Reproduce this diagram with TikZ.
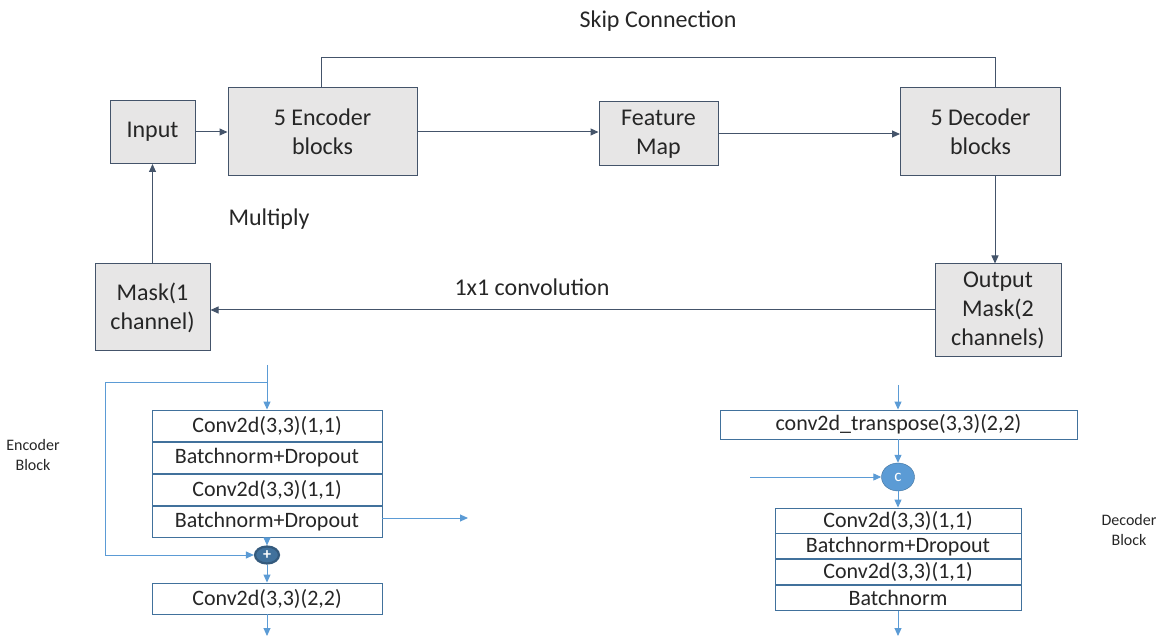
\documentclass[tikz,border=0pt]{standalone}
\usepackage{fontspec}
\setmainfont{Carlito}
\usepackage{xcolor,tikz}
\usetikzlibrary{arrows.meta,positioning,shapes.geometric,calc}
\definecolor{slate}{HTML}{44546A}
\definecolor{boxgray}{HTML}{E7E6E6}
\definecolor{lineblue}{HTML}{5B9BD5}
\definecolor{rowblue}{HTML}{41719C}
\definecolor{txt}{HTML}{262626}

\begin{document}
\begin{tikzpicture}[x=1pt,y=-1pt,
  every node/.style={text=txt},
  big/.style={font=\fontsize{24}{29}\selectfont},
  blk/.style={draw=slate,fill=boxgray,line width=1pt,align=center,big,inner sep=0pt},
  row/.style={draw=rowblue,line width=0.9pt,align=center,inner sep=0pt,font=\fontsize{22}{26}\selectfont},
  dot/.style={ellipse,draw=rowblue,fill=lineblue,inner sep=0pt,text=white},
  lbl/.style={align=center,font=\fontsize{16}{20}\selectfont},
  arr/.style={-{Triangle[length=8pt,width=7pt]},slate,line width=1pt},
  barr/.style={-{Triangle[length=8pt,width=7pt]},lineblue,line width=1pt}]
\useasboundingbox (0,0) rectangle (1163,636);
% overall network
\node[blk,minimum width=85,minimum height=63] (inp) at (152.5,132) {Input\strut};
\node[blk,minimum width=189,minimum height=88] (enc) at (322.5,132) {5 Encoder\\ blocks};
\node[blk,minimum width=119,minimum height=64] (feat) at (658.5,134) {Feature\\ Map};
\node[blk,minimum width=160,minimum height=88] (dec) at (980.5,132) {5 Decoder\\ blocks};
\node[blk,minimum width=115,minimum height=87] (mask) at (152.5,307.5) {Mask(1\\ channel)};
\node[blk,minimum width=126,minimum height=93] (out) at (998,310.5) {Output\\ Mask(2\\ channels)};
\node[big] (skip) at (658,21) {Skip Connection};
\node[big] (mult) at (269,219) {Multiply};
\node[big] (conv) at (532,287) {1x1 convolution};
\draw[arr] (inp)--(enc); \draw[arr] (enc.east)--(feat.west|-enc.east);
\draw[arr] (feat.east)--(dec.west|-feat.east);
\draw[slate,line width=1pt] (enc.north-|321,0) -- (321,58) -- (995,58) -- (dec.north-|995,0);
\draw[arr] (dec.south-|995,0)--(out.north-|995,0);
\draw[arr] (out.west|-0,310)--(mask.east|-0,310);
\draw[arr] (mask)--(inp);
% encoder block
\coordinate (etop) at (267,365); \coordinate (ebr) at (267,383);
\node[row,minimum width=230,minimum height=31.25] (e1) at (267,425.6) {Conv2d(3,3)(1,1)};
\node[row,minimum width=230,minimum height=31.25,below=0pt of e1] (e2) {Batchnorm+Dropout};
\node[row,minimum width=230,minimum height=31.25,below=0pt of e2] (e3) {Conv2d(3,3)(1,1)};
\node[row,minimum width=230,minimum height=31.25,below=0pt of e3] (e4) {Batchnorm+Dropout};
\node[dot,draw=rowblue!80!black,line width=2.2pt,fill=rowblue,minimum width=24,minimum height=17,font=\bfseries\fontsize{16}{16}\selectfont] (plus) at (267,555) {+};
\node[row,minimum width=230,minimum height=31] (e5) at (267,598.5) {Conv2d(3,3)(2,2)};
\coordinate (eside) at (468,518); \coordinate (eend) at (267,636);
\draw[barr] (etop)--(e1); \draw[barr] (e4)--(plus); \draw[barr] (plus)--(e5); \draw[barr] (e5)--(eend);
\draw[barr] (ebr) -- (105,383) |- (plus);
\draw[barr] (e4.east|-eside)--(eside);
\node[lbl] (elbl) at (33,455) {Encoder\\ Block};
% decoder block
\coordinate (dtop) at (898,385); \coordinate (cin) at (750,477);
\node[row,minimum width=357,minimum height=29] (d0) at (898.5,424.5) {conv2d\_transpose(3,3)(2,2)};
\node[dot,minimum width=33,minimum height=28,font=\fontsize{17}{17}\selectfont] (cat) at (898,477) {c};
\node[row,minimum width=246,minimum height=25] (d1) at (898,520.5) {Conv2d(3,3)(1,1)};
\node[row,minimum width=246,minimum height=25,below=0pt of d1] (d2) {Batchnorm+Dropout};
\node[row,minimum width=246,minimum height=25,below=0pt of d2] (d3) {Conv2d(3,3)(1,1)};
\node[row,minimum width=246,minimum height=25,below=0pt of d3] (d4) {Batchnorm};
\coordinate (dend) at (898,636);
\draw[barr] (dtop)--(d0.north-|dtop); \draw[barr] (d0.south-|cat.north)--(cat);
\draw[barr] (cin)--(cat); \draw[barr] (cat)--(d1); \draw[barr] (d4)--(dend);
\node[lbl] (dlbl) at (1129,530) {Decoder\\ Block};
\end{tikzpicture}
\end{document}
